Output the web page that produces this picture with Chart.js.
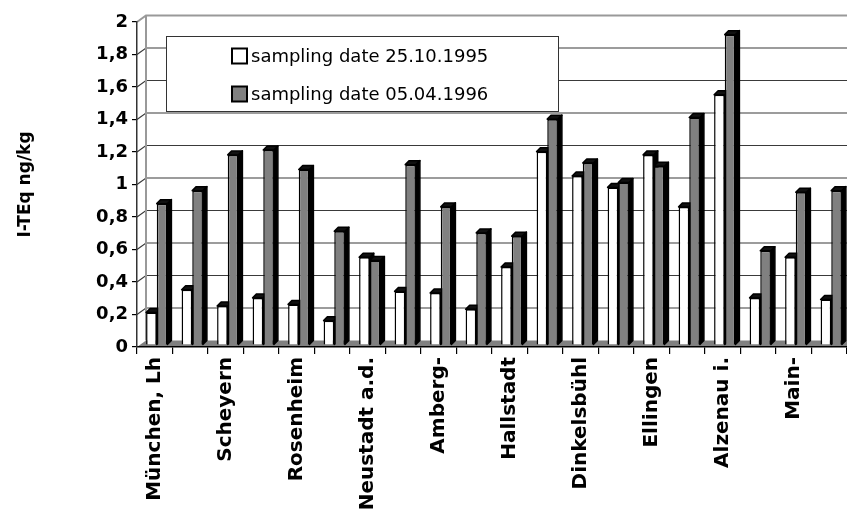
<!DOCTYPE html>
<html>
<head>
<meta charset="utf-8">
<script src="https://cdn.jsdelivr.net/npm/chart.js@4.4.0/dist/chart.umd.min.js"></script>
<style>
  html, body { margin: 0; padding: 0; background: #fff; }
</style>
</head>
<body>
<canvas id="chart" width="847" height="510"></canvas>
<script>
// sites: only every second name is printed on the axis
const sites = [
  "München, Lh", "", "Scheyern", "", "Rosenheim", "", "Neustadt a.d.", "",
  "Amberg-", "", "Hallstadt", "", "Dinkelsbühl", "", "Ellingen", "",
  "Alzenau i.", "", "Main-", ""
];
const seriesNames = ["sampling date 25.10.1995", "sampling date 05.04.1996"];
const oct1995 = [0.20, 0.34, 0.24, 0.29, 0.25, 0.15, 0.54, 0.33, 0.32, 0.22,
                 0.48, 1.19, 1.04, 0.97, 1.17, 0.85, 1.54, 0.29, 0.54, 0.28];
const apr1996 = [0.87, 0.95, 1.17, 1.20, 1.08, 0.70, 0.52, 1.11, 0.85, 0.69,
                 0.67, 1.39, 1.12, 1.00, 1.10, 1.40, 1.91, 0.58, 0.94, 0.95];
const yMax = 2;
const yStep = 0.2;

const DX = 9;        // depth of the back wall
const DY = 6.5;
const BAR_DEPTH = 4;

function poly(ctx, pts) {
  ctx.beginPath();
  ctx.moveTo(pts[0][0], pts[0][1]);
  for (let i = 1; i < pts.length; i++) ctx.lineTo(pts[i][0], pts[i][1]);
  ctx.closePath();
}

// back wall, floor and grid lines
const wallPlugin = {
  id: "wall",
  beforeDraw(chart) {
    const { ctx, chartArea: a, scales: { y } } = chart;
    ctx.save();
    ctx.fillStyle = "#808080";
    poly(ctx, [[a.left, a.bottom], [a.left + DX, a.bottom - DY], [a.right, a.bottom - DY], [a.right, a.bottom]]);
    ctx.fill();

    y.ticks.forEach(t => {
      if (t.value === 0) return;
      const py = y.getPixelForValue(t.value);
      ctx.beginPath();
      ctx.lineWidth = t.value >= yMax ? 2 : 1.2;
      ctx.strokeStyle = t.value >= yMax ? "#999" : "#3a3a3a";
      ctx.moveTo(a.left, py);
      ctx.lineTo(a.left + DX, py - DY);
      ctx.lineTo(a.right, py - DY);
      ctx.stroke();
    });

    ctx.beginPath();
    ctx.strokeStyle = "#999";
    ctx.lineWidth = 2;
    ctx.moveTo(a.left + DX, a.top - DY);
    ctx.lineTo(a.left + DX, a.bottom - DY);
    ctx.stroke();
    ctx.restore();
  }
};

function drawFaces(ctx, bar) {
  const { x, y, base, width } = bar.getProps(["x", "y", "base", "width"], true);
  const l = x - width / 2;
  const r = x + width / 2;
  const d = BAR_DEPTH;
  ctx.save();
  ctx.lineWidth = 1.5;
  ctx.strokeStyle = "#000";
  ctx.lineJoin = "round";
  ctx.fillStyle = "#000";
  poly(ctx, [[r, y], [r + d, y - d], [r + d, base - d], [r, base]]);
  ctx.fill();
  ctx.stroke();
  ctx.fillStyle = "#111";
  poly(ctx, [[l, y], [l + d, y - d], [r + d, y - d], [r, y]]);
  ctx.fill();
  ctx.stroke();
  ctx.restore();
}

// draw bars category by category so the right bar covers the left one's side
const barsPlugin = {
  id: "bars3d",
  beforeDatasetsDraw(chart) {
    const ctx = chart.ctx;
    const metas = chart.data.datasets.map((ds, i) => chart.getDatasetMeta(i));
    ctx.save();
    ctx.translate(2, -2);
    chart.data.labels.forEach((_, i) => {
      metas.forEach(meta => {
        const bar = meta.data[i];
        bar.draw(ctx);
        drawFaces(ctx, bar);
      });
    });
    ctx.restore();
    return false;
  }
};

const legendPlugin = {
  id: "boxLegend",
  afterDraw(chart) {
    const ctx = chart.ctx;
    ctx.save();
    ctx.fillStyle = "#fff";
    ctx.fillRect(166.5, 36.5, 392, 75);
    ctx.strokeStyle = "#333";
    ctx.lineWidth = 1;
    ctx.strokeRect(166.5, 36.5, 392, 75);
    ctx.font = "18px 'DejaVu Sans'";
    ctx.textBaseline = "middle";
    chart.data.datasets.forEach((ds, i) => {
      const cy = 56 + i * 38;
      ctx.fillStyle = ds.backgroundColor;
      ctx.fillRect(232, cy - 7.5, 15, 15);
      ctx.lineWidth = 2;
      ctx.strokeStyle = "#000";
      ctx.strokeRect(232, cy - 7.5, 15, 15);
      ctx.fillStyle = "#000";
      ctx.fillText(ds.label, 251, cy + 1);
    });
    ctx.restore();
  }
};

const boldFont = size => ({ family: "'DejaVu Sans'", weight: "bold", size });

new Chart(document.getElementById("chart"), {
  type: "bar",
  data: {
    labels: sites,
    datasets: [
      { label: seriesNames[0], data: oct1995, backgroundColor: "#ffffff", borderColor: "#000", borderWidth: 1.5 },
      { label: seriesNames[1], data: apr1996, backgroundColor: "#808080", borderColor: "#000", borderWidth: 1.5 }
    ]
  },
  options: {
    responsive: false,
    animation: false,
    layout: { padding: { top: 22, right: 0, bottom: 0, left: 0 } },
    datasets: { bar: { categoryPercentage: 0.6, barPercentage: 1 } },
    plugins: { legend: { display: false }, tooltip: { enabled: false } },
    scales: {
      x: {
        grid: { drawOnChartArea: false, offset: true, tickLength: 7, color: "#000", lineWidth: 1.2 },
        border: { color: "#000", width: 1.5 },
        ticks: { autoSkip: false, minRotation: 90, maxRotation: 90, color: "#000", font: boldFont(20), padding: 3 },
        afterFit(scale) {
          scale.height = 163;
          scale.paddingRight = 0;
        }
      },
      y: {
        min: 0,
        max: yMax,
        ticks: {
          stepSize: yStep,
          color: "#000",
          font: boldFont(18),
          padding: 4,
          callback: v => String(Number(v.toFixed(1))).replace(".", ",")
        },
        grid: { drawOnChartArea: false, tickLength: 5, color: "#000", lineWidth: 1.2 },
        border: { color: "#333", width: 1.5 },
        title: { display: true, text: "I-TEq ng/kg", color: "#000", font: boldFont(17), padding: { top: 15, bottom: 0 } },
        afterFit(scale) { scale.width = 137; }
      }
    }
  },
  plugins: [wallPlugin, barsPlugin, legendPlugin]
});
</script>
</body>
</html>
